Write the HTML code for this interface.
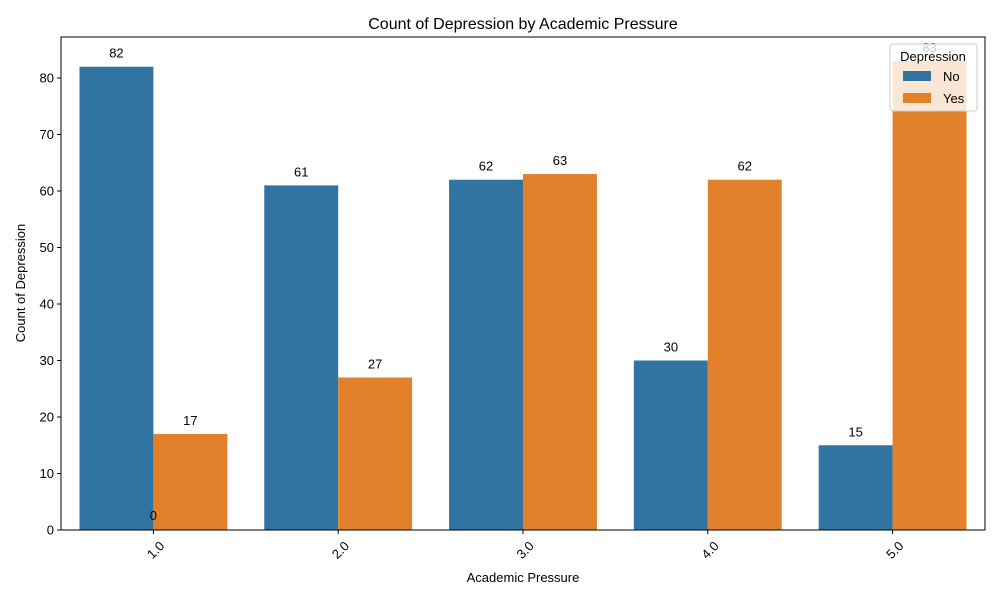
<!DOCTYPE html>
<html><head><meta charset="utf-8"><style>
body{margin:0;background:#fff}
svg{display:block;font-family:"Liberation Sans","DejaVu Sans",sans-serif}
</style></head><body>
<svg id="chart" width="1000" height="600" viewBox="0 0 1000 600">
<rect width="1000" height="600" fill="#fff"/>
<text x="523" y="29" font-size="16" text-anchor="middle">Count of Depression by Academic Pressure</text>
<g id="plot"></g>
<text x="523" y="582" font-size="13" text-anchor="middle">Academic Pressure</text>
<text transform="translate(25,283) rotate(-90)" font-size="13" text-anchor="middle">Count of Depression</text>
</svg>
<script>
const categories=["1.0","2.0","3.0","4.0","5.0"];
const noValues=[82,61,62,30,15];
const yesValues=[17,27,63,62,83];
const yTicks=[0,10,20,30,40,50,60,70,80];
const L=61,R=985,T=37,B=530,YMAX=87.26;
const ns="http://www.w3.org/2000/svg";
const g=document.getElementById('plot');
const y=v=>B-(v/YMAX)*(B-T);
const bw=(R-L)/categories.length;
const x=i=>L+bw*i+bw/2;
function el(t,a,txt){const e=document.createElementNS(ns,t);for(const k in a)e.setAttribute(k,a[k]);if(txt!==undefined)e.textContent=txt;g.appendChild(e);return e;}
yTicks.forEach(v=>{
 const tk=el('line',{x1:L-4,x2:L,y1:y(v),y2:y(v),stroke:'#000'});
 
 const t=el('text',{x:L-7,y:y(v)+4.5,'font-size':13,'text-anchor':'end'},String(v));
 
});
const series=[[noValues,'#3274a1',-1,'no'],[yesValues,'#e1812c',0,'yes']];
series.forEach(([vals,col,off,nm])=>{
 vals.forEach((v,i)=>{
  const bx=x(i)+off*bw*0.4;
  const r=el('rect',{x:bx,y:y(v),width:bw*0.4,height:B-y(v),fill:col});
  
  const t=el('text',{x:bx+bw*0.2,y:y(v)-9,'font-size':13,'text-anchor':'middle'},String(v));
  
 });
});
const z=el('text',{x:x(0),y:B-10,'font-size':13,'text-anchor':'middle'},'0');

categories.forEach((c,i)=>{
 const tk=el('line',{x1:x(i),x2:x(i),y1:B,y2:B+4,stroke:'#000'});
 
 const t=el('text',{transform:`translate(${x(i)+5},${B+10}) rotate(-45)`,'font-size':13,'text-anchor':'end','dominant-baseline':'hanging'},c);
 
});
const fr=el('rect',{x:L,y:T,width:R-L,height:B-T,fill:'none',stroke:'#000','stroke-width':1});

// legend
const lg=el('rect',{x:890,y:44,width:87,height:67,fill:'#fff','fill-opacity':0.8,stroke:'#ccc',rx:3});

const lt=el('text',{x:933,y:61,'font-size':13,'text-anchor':'middle'},'Depression');

[['No','#3274a1',71],['Yes','#e1812c',93]].forEach(([n,c,yy])=>{
 const p=el('rect',{x:903,y:yy,width:28,height:10,fill:c});
 
 const t=el('text',{x:943,y:yy+10,'font-size':13},n);
 
});
</script>
</body></html>
